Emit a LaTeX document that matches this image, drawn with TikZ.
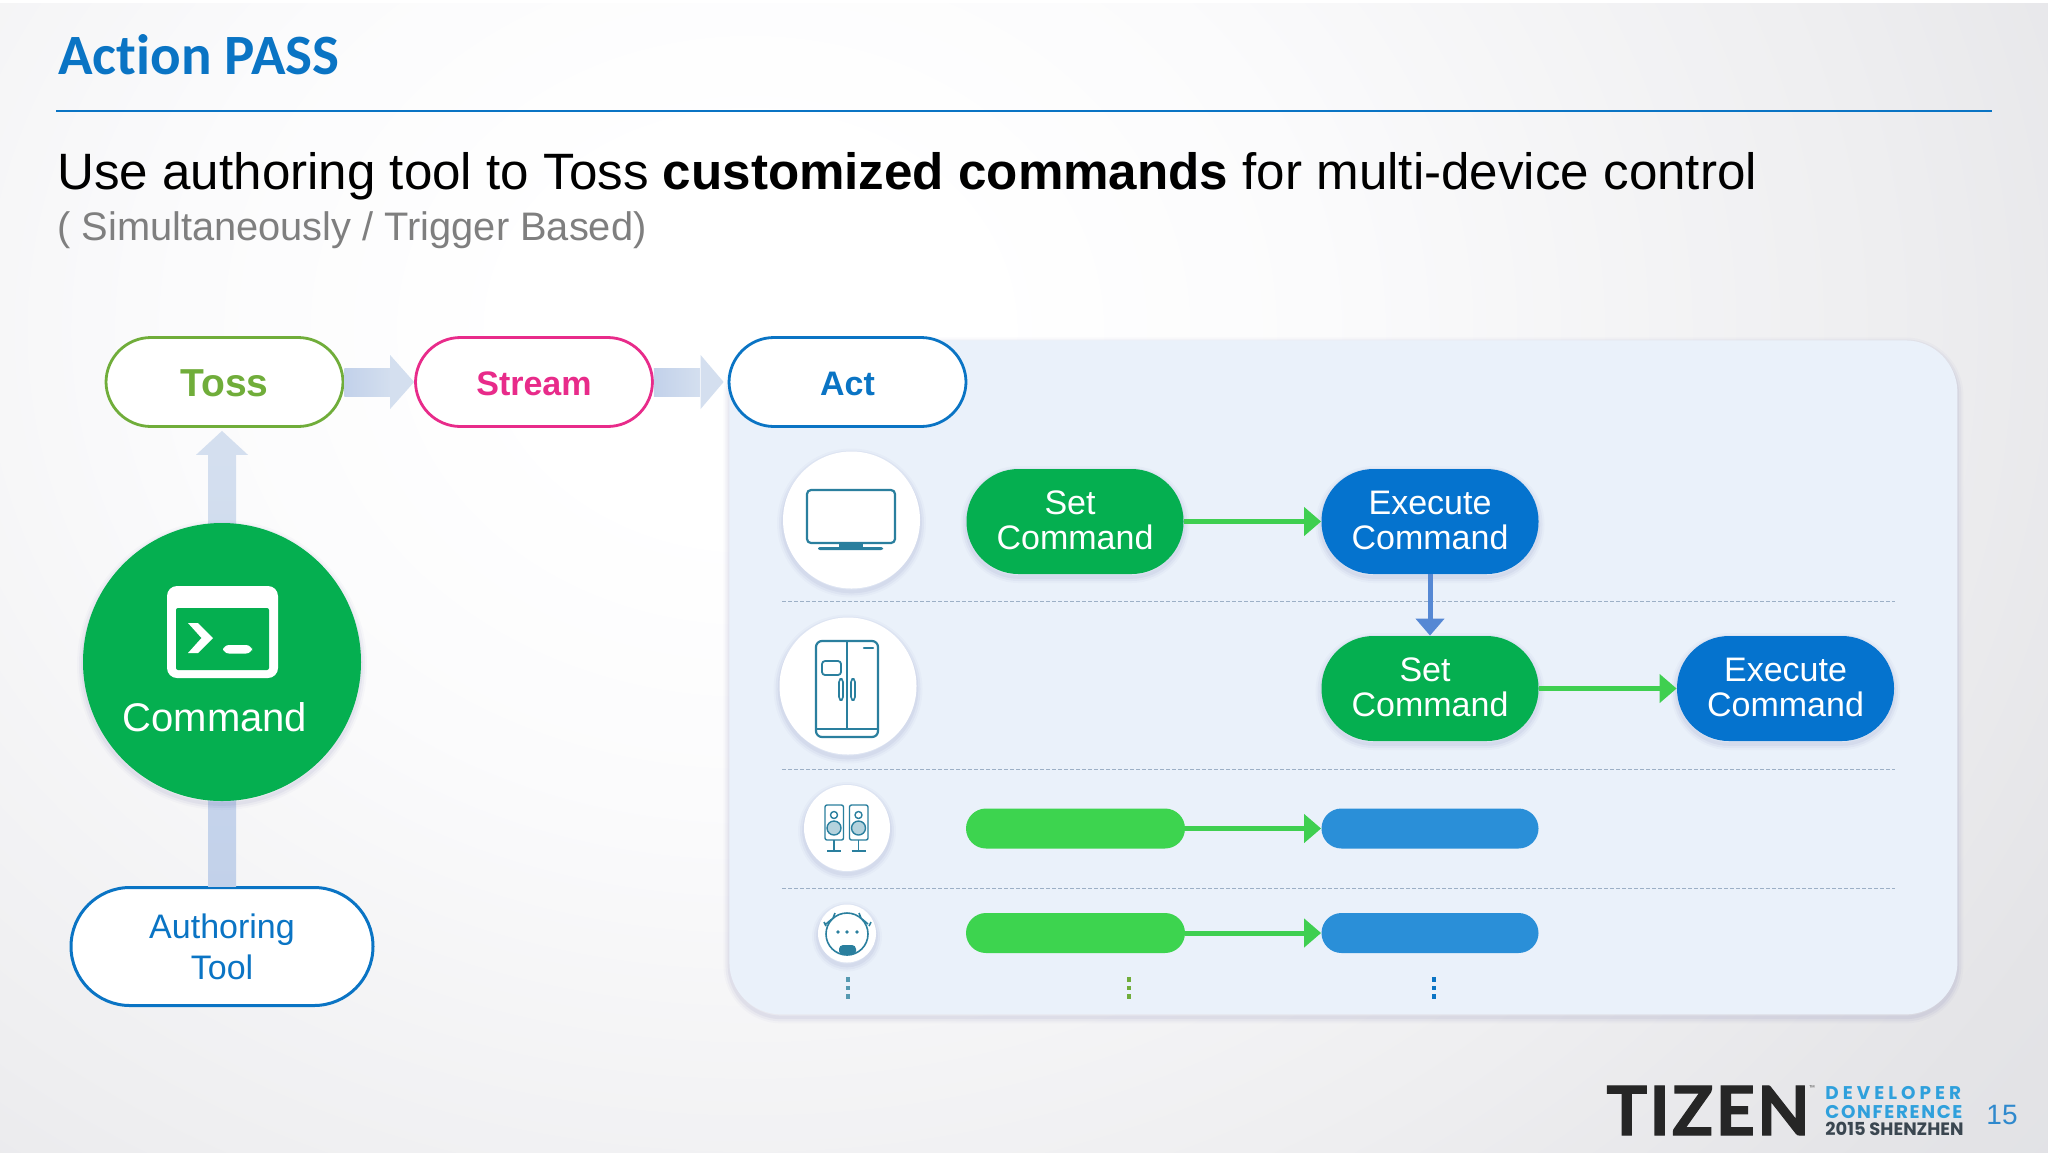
\documentclass[tikz,border=0pt]{standalone}
\usepackage{fontspec}
\setmainfont{Liberation Sans}
\newfontfamily\titlefont[Ligatures=NoCommon]{Carlito}
\newfontfamily\logofont{Poppins}
\newfontfamily\tizenfont[BoldFeatures={FakeBold=1.7,LetterSpace=3.5}]{Lato}
\usetikzlibrary{arrows.meta,calc}
\definecolor{pptblue}{HTML}{0A74C4}
\definecolor{pillblue}{HTML}{0573CE}
\definecolor{pptgreen}{HTML}{05AF50}
\definecolor{tossgreen}{HTML}{70AD3A}
\definecolor{streampink}{HTML}{E82B8A}
\definecolor{panelblue}{HTML}{EAF1FA}
\definecolor{barblue}{HTML}{2A8FD8}
\definecolor{bargreen}{HTML}{3DD44F}
\definecolor{linkgreen}{HTML}{3FCF50}
\definecolor{linkblue}{HTML}{5588D4}
\definecolor{icon}{HTML}{2A7F9E}
\definecolor{arrowa}{HTML}{C2D1EA}
\definecolor{arrowb}{HTML}{D4DFEF}
\definecolor{dashc}{HTML}{9DB0C6}
\definecolor{subgray}{HTML}{7F7F7F}
\definecolor{logoblue}{HTML}{2FA0DC}
\definecolor{logodark}{HTML}{3A4650}
\definecolor{bgA}{HTML}{FFFFFF}
\definecolor{bgB}{HTML}{FBFBFC}
\definecolor{bgC}{HTML}{EEEEF0}
\definecolor{bgD}{HTML}{E4E4E7}
\definecolor{bgE}{HTML}{DEDFE3}
\definecolor{bgF}{HTML}{DADBE3}
\pgfdeclareradialshading{slidebg}{\pgfpoint{0bp}{0bp}}{
 color(0bp)=(bgA); color(3.5bp)=(bgA); color(8.9bp)=(bgB); color(17.8bp)=(bgC);
 color(23.3bp)=(bgD); color(30bp)=(bgE); color(34.4bp)=(bgF); color(50bp)=(bgF)}
\newcommand{\fs}[2]{\fontsize{#1}{#2}\selectfont}
\tikzset{
 softshadow/.style={
  preaction={draw=black!60!blue,draw opacity=.02,line width=6pt,transform canvas={yshift=-1.5pt}},
  preaction={draw=black!60!blue,draw opacity=.03,line width=4pt,transform canvas={yshift=-1.5pt}},
  preaction={draw=black!60!blue,draw opacity=.04,line width=1.8pt,transform canvas={yshift=-1.5pt}}},
 stage/.style={rectangle,rounded corners=22.5pt,draw=#1,line width=1.4pt,fill=white,text=#1,
  minimum width=118.5pt,minimum height=44.5pt,inner sep=0pt,text height=13pt,text depth=0pt,font=\bfseries\fs{17}{20}},
 cmdpill/.style={rectangle,rounded corners=26pt,fill=#1,text=white,minimum width=108.5pt,minimum height=52.5pt,
  inner sep=0pt,align=center,font=\fs{17}{17.5},softshadow},
 bar/.style={rectangle,rounded corners=10pt,fill=#1,minimum width=109.5pt,minimum height=20pt,inner sep=0pt},
 dev/.style={circle,fill=white,draw=none,inner sep=0pt,softshadow},
 link/.style={line width=2.5pt,-{Triangle[length=8.5pt,width=14pt]}},
 rowline/.style={draw=dashc,line width=.5pt,dash pattern=on 2pt off 1pt},
 iconline/.style={draw=icon,line width=1.1pt,line join=round},
 vdot/.style={rectangle,minimum width=2.3pt,minimum height=2.3pt,inner sep=0pt,fill=#1},
}
\begin{document}
\begin{tikzpicture}[x=0.5pt,y=-0.5pt]
\useasboundingbox (0,0) rectangle (2048,1152);
% background
\begin{scope}
\clip (0,0) rectangle (2048,1152);
\shade[shading=slidebg] (-850,-1003) rectangle (2350,1663);
\fill[white] (0,0) rectangle (2048,3);
\end{scope}
% header
\node[anchor=base west,inner sep=0pt,text=pptblue,font=\titlefont\bfseries\fs{28.5}{30}] (title) at (58,74) {Action PASS};
\coordinate (ruleL) at (56,111);
\coordinate (ruleR) at (1992,111);
\draw[pptblue,line width=1pt] (ruleL) -- (ruleR);
\node[anchor=base west,inner sep=0pt,text=black,font=\fs{25.57}{30}] (sub) at (57,189) {Use authoring tool to Toss \textbf{customized commands} for multi-device control};
\node[anchor=base west,inner sep=0pt,text=subgray,font=\fs{19.9}{24}] (sub2) at (57,240) {( Simultaneously / Trigger Based)};
% panel
\node[rectangle,rounded corners=26pt,fill=panelblue,minimum width=614pt,minimum height=337pt,inner sep=0pt,softshadow,anchor=north west] (panel) at (729,340) {};
% row rules
\foreach \n/\y in {a/601,b/769,c/888}{
 \coordinate (r\n L) at (782,\y);
 \coordinate (r\n R) at (1895,\y);
 \draw[rowline] (r\n L) -- (r\n R);
}
% stage nodes
\node[stage=tossgreen,font=\bfseries\fs{19.5}{20},text height=14pt] (toss) at (224.5,382) {Toss};
\node[stage=streampink] (stream) at (534,382) {Stream};
\node[stage=pptblue] (act) at (847.5,382) {Act};
\node[rectangle,rounded corners=29.5pt,draw=pptblue,line width=1.5pt,fill=white,text=pptblue,minimum width=151pt,minimum height=59pt,inner sep=0pt,align=center,font=\fs{17}{20.5}] (auth) at (222,946.5) {Authoring\\Tool};
% block arrows
\shade[left color=arrowa,right color=arrowb] ($(toss.east)+(0,-14)$) -- ($(toss.east)+(48,-14)$) -- ($(toss.east)+(48,14)$) -- ($(toss.east)+(0,14)$) -- cycle;
\fill[arrowb] ($(stream.west)+(-24,-27)$) -- (stream.west) -- ($(stream.west)+(-24,27)$) -- cycle;
\shade[left color=arrowa,right color=arrowb] ($(stream.east)+(0,-14)$) -- ($(stream.east)+(46,-14)$) -- ($(stream.east)+(46,14)$) -- ($(stream.east)+(0,14)$) -- cycle;
\fill[arrowb] ($(act.west)+(-27,-27)$) -- ($(act.west)+(-4,0)$) -- ($(act.west)+(-27,27)$) -- cycle;
\shade[top color=arrowb,bottom color=arrowa] ($(toss.south)+(-16.5,26)$) -- ($(toss.south)+(11.5,26)$) -- ($(auth.north)+(14,0)$) -- ($(auth.north)+(-14,0)$) -- cycle;
\fill[arrowb] ($(toss.south)+(-28.5,27)$) -- ($(toss.south)+(-2.5,3)$) -- ($(toss.south)+(23.5,27)$) -- cycle;
% command circle
\node[circle,fill=pptgreen,minimum size=139pt,inner sep=0pt,softshadow] (cmd) at (222,662) {};
\node[anchor=base,inner sep=0pt,text=white,font=\fs{20}{22}] (cmdlabel) at (215,731) {Command};
\fill[white,rounded corners=5pt] (167,586) rectangle (278,678);
\fill[pptgreen,rounded corners=1pt] (176,608) rectangle (269,670);
\fill[white] (188,623) -- (198,623) -- (213,638) -- (198,653) -- (188,653) -- (201.5,638) -- cycle;
\fill[white,rounded corners=3pt] (223,645) rectangle (252,653.5);
% device circles
\node[dev,minimum size=68.5pt] (tv) at (851.5,520) {};
\node[dev,minimum size=68.5pt] (fridge) at (848,686) {};
\node[dev,minimum size=43pt] (spk) at (847,828) {};
\node[dev,minimum size=29pt] (robot) at (847,933.5) {};
% tv icon
\draw[iconline,rounded corners=2pt] (807,490) rectangle (895,543);
\fill[icon] (839,543) rectangle (863,548);
\fill[icon,rounded corners=1pt] (818,547) rectangle (883,550);
% fridge icon
\draw[iconline,rounded corners=3pt] (816,641) rectangle (878,737);
\draw[iconline] (847,641) -- (847,729);
\draw[iconline] (816,729) -- (878,729);
\draw[iconline,rounded corners=1.5pt,line width=.9pt] (822,661) rectangle (841,675);
\draw[iconline,rounded corners=1.5pt,line width=.8pt] (839,679) rectangle (843,700);
\draw[iconline,rounded corners=1.5pt,line width=.8pt] (851,679) rectangle (855,700);
\draw[icon,line width=1.2pt,line cap=round] (864,648) -- (873,648);
% speaker icon
\foreach \cx in {834,858.5}{
 \draw[iconline,line width=.7pt,rounded corners=1pt] ({\cx-9},805) rectangle ({\cx+9.5},840);
 \draw[iconline,line width=.7pt] (\cx,815) circle (3.5);
 \draw[iconline,line width=.7pt,fill=icon!35!white] (\cx,828) circle (7);
 \draw[iconline,line width=.8pt] (\cx,840) -- (\cx,851);
 \draw[iconline,line width=.8pt] ({\cx-7},851) -- ({\cx+7},851);
}
% robot icon
\draw[iconline,line width=.8pt] (847,934) circle (21);
\fill[icon] (838,932) circle (1.8) (847,932) circle (1.8) (857,932) circle (1.8);
\fill[icon,rounded corners=2pt] (839,945) rectangle (856,955);
\draw[iconline,line width=.8pt] (826,924) -- (832,919) (826,926) -- (824,922) (833,918) -- (835,913) (868,924) -- (862,919) (869,926) -- (871,922) (861,918) -- (859,913);
% commands
\node[cmdpill=pptgreen] (set1) at (1075,521.5) {\hspace*{-5pt}Set\\Command\rule[-1.3pt]{0pt}{0pt}};
\node[cmdpill=pillblue] (exe1) at (1430,521.5) {Execute\\Command\rule[-1.3pt]{0pt}{0pt}};
\node[cmdpill=pptgreen] (set2) at (1430,688.5) {\hspace*{-5pt}Set\\Command\rule[-1.3pt]{0pt}{0pt}};
\node[cmdpill=pillblue] (exe2) at (1785.5,688.5) {Execute\\Command\rule[-1.3pt]{0pt}{0pt}};
\node[bar=bargreen] (g3) at (1075.5,828.5) {};
\node[bar=barblue,minimum width=108.5pt] (b3) at (1430,828.5) {};
\node[bar=bargreen] (g4) at (1075.5,933) {};
\node[bar=barblue,minimum width=108.5pt] (b4) at (1430,933) {};
% connectors
\draw[link,linkgreen] (set1) -- (exe1);
\draw[link,linkblue] (exe1) -- (set2);
\draw[link,linkgreen] (set2) -- (exe2);
\draw[link,linkgreen] (g3) -- (b3);
\draw[link,linkgreen] (g4) -- (b4);
% ellipsis dots
\foreach \n/\x/\c in {p/848/icon!80!white,q/1129/tossgreen,s/1434/pptblue}{
 \foreach \m/\y in {1/979.5,2/988,3/996.5}{
  \node[vdot=\c] (\n\m) at (\x,\y) {};
 }
}
% logo
\node[anchor=base west,inner sep=0pt,text=black!85,font=\tizenfont\bfseries\fs{34}{36}] (tizen) at (1606,1135) {TIZEN};
\node[anchor=west,inner sep=0pt,text=black!60,font=\logofont\fs{3.5}{4}] (tm) at (1809,1088) {™};
\node[anchor=base west,inner sep=0pt,text=logoblue,font=\logofont\bfseries\fs{9.2}{10}] (dc1) at (1825,1099.5) {\addfontfeature{LetterSpace=22}DEVELOPER};
\node[anchor=base west,inner sep=0pt,text=logoblue,font=\logofont\bfseries\fs{9.2}{10}] (dc2) at (1825,1118) {\addfontfeature{LetterSpace=9}CONFERENCE};
\node[anchor=base west,inner sep=0pt,text=logodark,font=\logofont\bfseries\fs{8.95}{10}] (dc3) at (1825,1135.5) {2015 SHENZHEN};
\node[anchor=base west,inner sep=0pt,text=pptblue!85!white,font=\fs{14}{16}] (page) at (1986,1124) {15};
\end{tikzpicture}
\end{document}
